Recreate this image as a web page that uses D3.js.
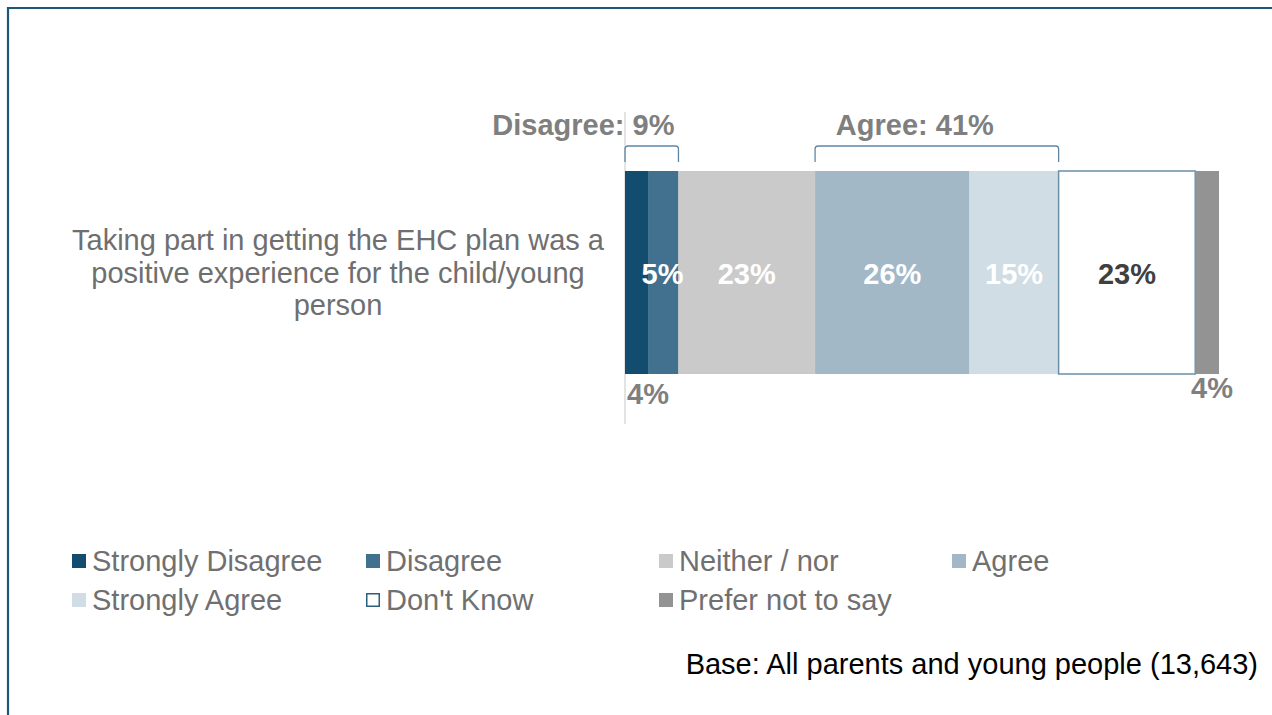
<!DOCTYPE html>
<html><head><meta charset="utf-8">
<script src="https://cdn.jsdelivr.net/npm/d3@7"></script>
<style>body{margin:0;background:#fff;}svg{display:block;font-family:"Liberation Sans",Arial,sans-serif;}</style>
</head><body><svg id="c" width="1272" height="715"></svg>
<script>
const categories = ["Taking part in getting the EHC plan was a positive experience for the child/young person"];
const categoryLines = ["Taking part in getting the EHC plan was a","positive experience for the child/young","person"];
const seriesNames = ["Strongly Disagree","Disagree","Neither / nor","Agree","Strongly Agree","Don't Know","Prefer not to say"];
const seriesValues = [4,5,23,26,15,23,4];
const seriesColors = ["#124d70","#41718f","#cacaca","#a2b8c7","#d0dde4","#ffffff","#939393"];
const labelColors = ["#7f7f7f","#ffffff","#ffffff","#ffffff","#ffffff","#404040","#7f7f7f"];
const groups = [{name:"Disagree", from:0, to:1, total:9},{name:"Agree", from:3, to:4, total:41}];
const baseNote = "Base: All parents and young people (13,643)";

const FS = 29;
const svg = d3.select("#c");
// frame
svg.append("path").attr("d","M8,715 V8 H1272").attr("fill","none").attr("stroke","#1d5878").attr("stroke-width",2.2);

const x = d3.scaleLinear().domain([0,100]).range([625,1219]);
const y = d3.scaleBand().domain(categories).range([171,374]).padding(0);

let cum = 0;
const segs = seriesValues.map((v,i)=>{const s={i,v,x0:cum,x1:cum+v}; cum+=v; return s;});

// axis line
svg.append("line").attr("x1",x(0)).attr("x2",x(0)).attr("y1",112).attr("y2",424).attr("stroke","#c8c8c8").attr("stroke-width",1);

const cat = categories[0];
svg.selectAll("rect.seg").data(segs).enter().append("rect")
  .attr("x",d=>x(d.x0)).attr("y",y(cat)).attr("width",d=>x(d.x1)-x(d.x0)).attr("height",y.bandwidth())
  .attr("fill",d=>seriesColors[d.i])
  .attr("stroke",d=>d.i===5?"#6a8fa8":"none").attr("stroke-width",1.5);

// labels
const midY = y(cat)+y.bandwidth()/2;
segs.forEach(d=>{
  let lx = (x(d.x0)+x(d.x1))/2, ly = midY+11, anchor="middle";
  if(d.i===0){ lx = x(d.x0)+2; ly = 404; anchor="start"; }
  if(d.i===1){ lx = x(d.x1)+5; anchor="end"; }
  if(d.i===6){ lx = x(d.x1)+14; ly = 398; anchor="end"; }
  svg.append("text").attr("x",lx).attr("y",ly).attr("text-anchor",anchor)
    .attr("font-size",FS).attr("font-weight","bold").attr("fill",labelColors[d.i]).text(d.v+"%");
});

// brackets
groups.forEach((g,gi)=>{
  const a = x(segs[g.from].x0), b = x(segs[g.to].x1);
  const top=146, bot=162, r=3;
  svg.append("path").attr("d",`M${a},${bot} V${top+r} Q${a},${top} ${a+r},${top} H${b-r} Q${b},${top} ${b},${top+r} V${bot}`)
    .attr("fill","none").attr("stroke","#5f87a3").attr("stroke-width",1.3);
  const t = svg.append("text").attr("y",135).attr("font-size",FS).attr("font-weight","bold").attr("fill","#7f7f7f").text(g.name+": "+g.total+"%");
  if(gi===0) t.attr("x",b-4).attr("text-anchor","end");
  else t.attr("x",(a+b)/2-22).attr("text-anchor","middle");
});

// category label
svg.append("text").attr("text-anchor","middle").attr("font-size",FS).attr("fill","#6f6f6f")
  .selectAll("tspan").data(categoryLines).enter().append("tspan")
  .attr("x",338).attr("y",(d,i)=>250+i*32.5).text(d=>d);

// legend
const legX = [72,366,659,952], legY=[561,600];
seriesNames.forEach((n,i)=>{
  const lx = legX[i%4], ly = legY[Math.floor(i/4)];
  svg.append("rect").attr("x",lx+ (i===5?0.75:0)).attr("y",ly-7+(i===5?0.75:0)).attr("width",i===5?12.5:14).attr("height",i===5?12.5:14)
    .attr("fill",seriesColors[i]).attr("stroke",i===5?"#2c5f7f":"none").attr("stroke-width",1.5);
  svg.append("text").attr("x",lx+20).attr("y",ly+10).attr("font-size",FS).attr("fill","#707070").text(n);
});

svg.append("text").attr("x",1258).attr("y",674).attr("text-anchor","end").attr("font-size",FS).attr("fill","#000").text(baseNote);
</script></body></html>
